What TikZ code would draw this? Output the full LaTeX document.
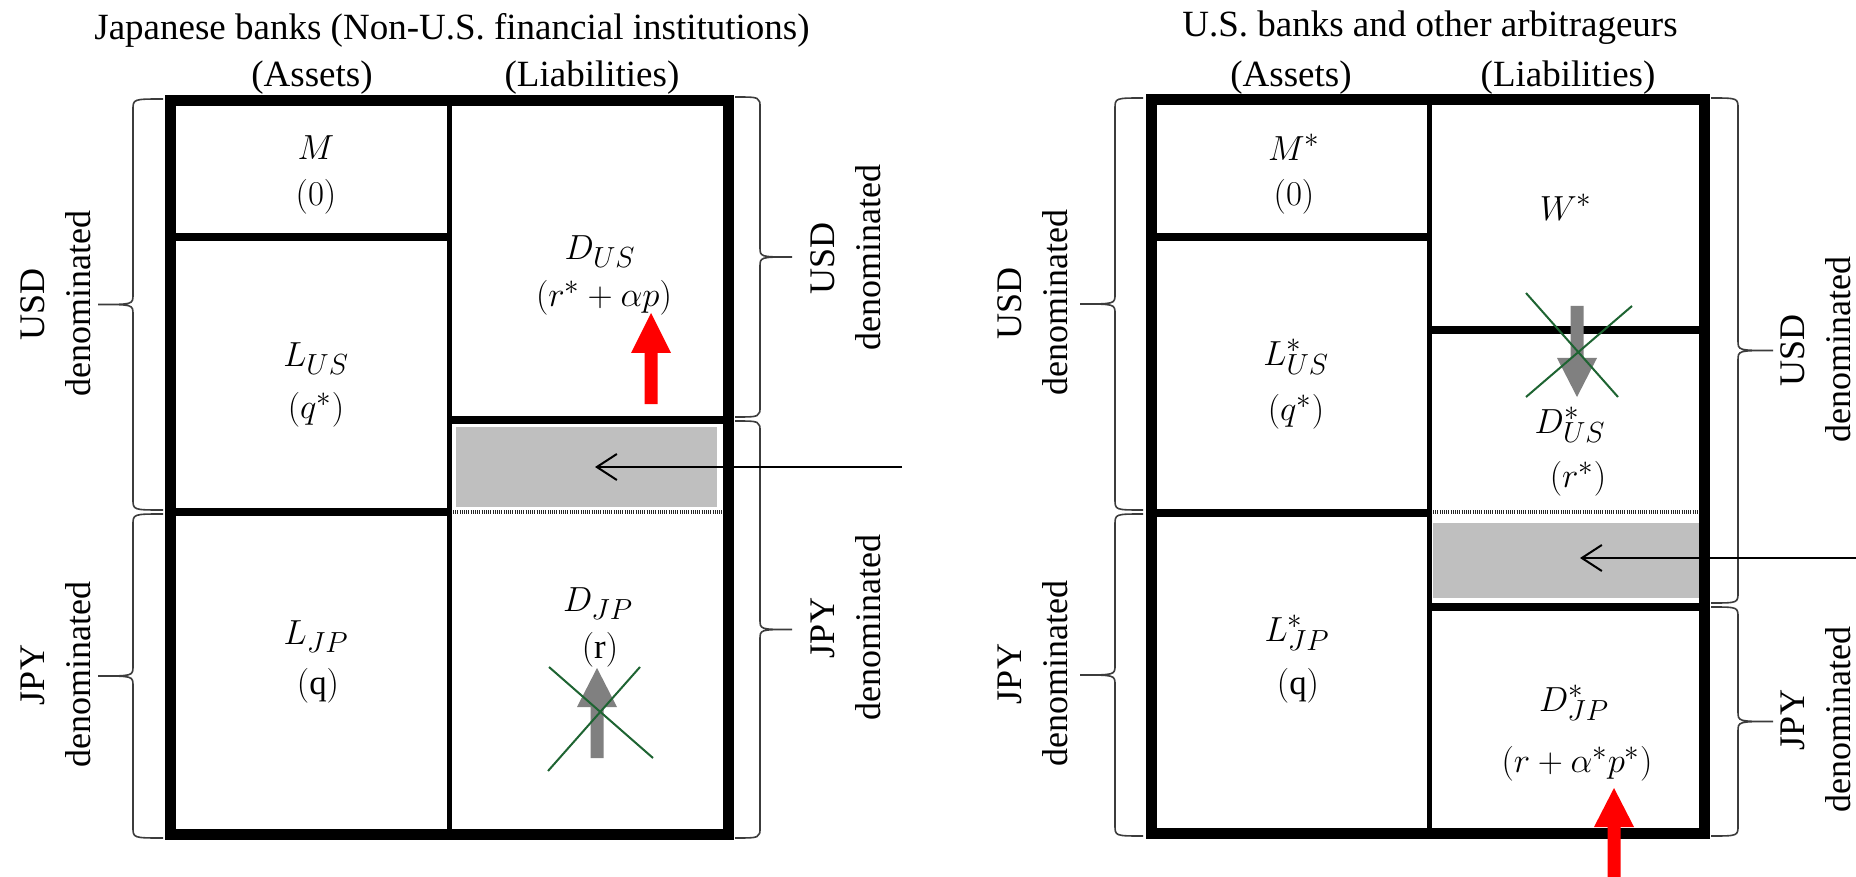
\documentclass[tikz,border=0pt]{standalone}
\usepackage{fontspec}
\setmainfont{Liberation Serif}
\usetikzlibrary{arrows.meta}
\definecolor{xgreen}{RGB}{30,100,50}
\definecolor{boxgray}{RGB}{191,191,191}
\definecolor{arrgray}{RGB}{128,128,128}
\definecolor{bracecol}{RGB}{60,60,60}
\tikzset{
 outerbox/.style={line width=11pt},
 divline/.style={line width=5pt},
 sepline/.style={line width=8pt},
 shadebox/.style={fill=boxgray},
 dotline/.style={line width=4pt, draw=black!85, dash pattern=on 1pt off 1.2pt},
 lbl/.style={font=\fontsize{37}{44}\selectfont, inner sep=0pt},
 mathlbl/.style={font=\Huge, inner sep=0pt},
 sidelbl/.style={font=\fontsize{36}{46}\selectfont, align=center, rotate=90, inner sep=0pt},
 bracestyle/.style={line width=1.6pt, draw=bracecol},
 crossline/.style={draw=xgreen, line width=2pt},
 flowarr/.style={line width=2pt, -{Straight Barb[length=20pt,width=26pt]}},
}
\newcommand\mlbl[1]{\scalebox{1.4}{$#1$}}
% brace: #1 end x, #2 straight x, #3 tip x, #4 top y, #5 bottom y
\newcommand\bracel[5]{\draw[bracestyle] (#1,#4) .. controls (#2,#4) .. (#2,{#4+11}) -- (#2,{(#4+#5)/2-10}) .. controls (#2,{(#4+#5)/2}) .. (#3,{(#4+#5)/2}) .. controls (#2,{(#4+#5)/2}) .. (#2,{(#4+#5)/2+10}) -- (#2,{#5-11}) .. controls (#2,#5) .. (#1,#5);}
\newcommand\blockarrow[5]{\fill[#1] ({#2-6.5},#3) -- ({#2-6.5},#4) -- ({#2-20},#4) -- (#2,#5) -- ({#2+20},#4) -- ({#2+6.5},#4) -- ({#2+6.5},#3) -- cycle;}
\begin{document}
\begin{tikzpicture}[x=1pt,y=-1pt]
\fill[white] (0,0) rectangle (1856,877);
\useasboundingbox (0,0) rectangle (1856,877);
% ---------- left panel ----------
\fill[shadebox] (456,427) rectangle (717,507);
\draw[dotline] (453,512) -- (722,512);
\draw[divline] (449,101) -- (449,834);
\draw[sepline] (170,237) -- (449,237);
\draw[sepline] (170,512) -- (449,512);
\draw[sepline] (449,420) -- (728,420);
\draw[outerbox] (170,101) rectangle (728,834);
\node[lbl] (titleL) at (452,30) {Japanese banks (Non-U.S. financial institutions)};
\node[lbl] (assetsL) at (312,78) {(Assets)};
\node[lbl] (liabL) at (592,78) {(Liabilities)};
\node[mathlbl] (mL) at (316,148) {\mlbl{M}};
\node[mathlbl] (mLr) at (316,197) {\mlbl{(0)}};
\node[mathlbl] (lusL) at (316,359) {\mlbl{L_{US}}};
\node[mathlbl] (lusLr) at (316,410) {\mlbl{(q^*)}};
\node[mathlbl] (dusL) at (600,252) {\mlbl{D_{US}}};
\node[mathlbl] (dusLr) at (604,298) {\mlbl{(r^*+\alpha p)}};
\node[mathlbl] (ljpL) at (316,637) {\mlbl{L_{JP}}};
\node[mathlbl] (ljpLr) at (318,686) {\mlbl{(\mathrm{q})}};
\node[mathlbl] (djpL) at (598,604) {\mlbl{D_{JP}}};
\node[mathlbl] (djpLr) at (600,650) {\mlbl{(\mathrm{r})}};
\node[sidelbl] (usdLL) at (56,304) {USD\\denominated};
\node[sidelbl] (jpyLL) at (56,675) {JPY\\denominated};
\node[sidelbl] (usdLR) at (846,258) {USD\\denominated};
\node[sidelbl] (jpyLR) at (846,628) {JPY\\denominated};
\bracel{163}{133}{98}{99}{510}
\bracel{163}{133}{98}{514}{838}
\bracel{735}{760}{792}{97}{417}
\bracel{735}{760}{792}{421}{838}
\blockarrow{red}{651}{404}{353}{313}
\blockarrow{arrgray}{597}{758}{707}{668}
\draw[crossline] (548,771) -- (640,667);
\draw[crossline] (549,667) -- (653,758);
\coordinate (srcL) at (902,467);
\coordinate (dstL) at (595,467);
\draw[flowarr] (srcL) -- (dstL);
% ---------- right panel ----------
\fill[shadebox] (1433,523) rectangle (1699,598);
\draw[dotline] (1433,512) -- (1699,512);
\draw[divline] (1429,100) -- (1429,833);
\draw[sepline] (1151,237) -- (1429,237);
\draw[sepline] (1151,513) -- (1429,513);
\draw[sepline] (1429,330) -- (1704,330);
\draw[sepline] (1429,607) -- (1704,607);
\draw[outerbox] (1151,100) rectangle (1704,833);
\node[lbl] (titleR) at (1430,28) {U.S. banks and other arbitrageurs};
\node[lbl] (assetsR) at (1291,78) {(Assets)};
\node[lbl] (liabR) at (1568,78) {(Liabilities)};
\node[mathlbl] (mR) at (1294,147) {\mlbl{M^*}};
\node[mathlbl] (mRr) at (1294,197) {\mlbl{(0)}};
\node[mathlbl] (wR) at (1566,207) {\mlbl{W^*}};
\node[mathlbl] (lusR) at (1296,357) {\mlbl{L^*_{US}}};
\node[mathlbl] (lusRr) at (1296,412) {\mlbl{(q^*)}};
\node[mathlbl] (dusR) at (1570,425) {\mlbl{D^*_{US}}};
\node[mathlbl] (dusRr) at (1578,479) {\mlbl{(r^*)}};
\node[mathlbl] (ljpR) at (1297,633) {\mlbl{L^*_{JP}}};
\node[mathlbl] (ljpRr) at (1298,686) {\mlbl{(\mathrm{q})}};
\node[mathlbl] (djpR) at (1574,703) {\mlbl{D^*_{JP}}};
\node[mathlbl] (djpRr) at (1577,764) {\mlbl{(r+\alpha^*p^*)}};
\node[sidelbl] (usdRL) at (1033,303) {USD\\denominated};
\node[sidelbl] (jpyRL) at (1033,674) {JPY\\denominated};
\node[sidelbl] (usdRR) at (1816,350) {USD\\denominated};
\node[sidelbl] (jpyRR) at (1816,720) {JPY\\denominated};
\bracel{1143}{1115}{1080}{98}{510}
\bracel{1143}{1115}{1080}{514}{836}
\bracel{1711}{1738}{1773}{98}{603}
\bracel{1711}{1738}{1773}{607}{836}
\blockarrow{arrgray}{1577}{306}{358}{397}
\blockarrow{red}{1614}{877}{827}{788}
\draw[crossline] (1526,293) -- (1618,397);
\draw[crossline] (1632,306) -- (1526,397);
\coordinate (srcR) at (1856,558);
\coordinate (dstR) at (1580,558);
\draw[flowarr] (srcR) -- (dstR);
\end{tikzpicture}
\end{document}
